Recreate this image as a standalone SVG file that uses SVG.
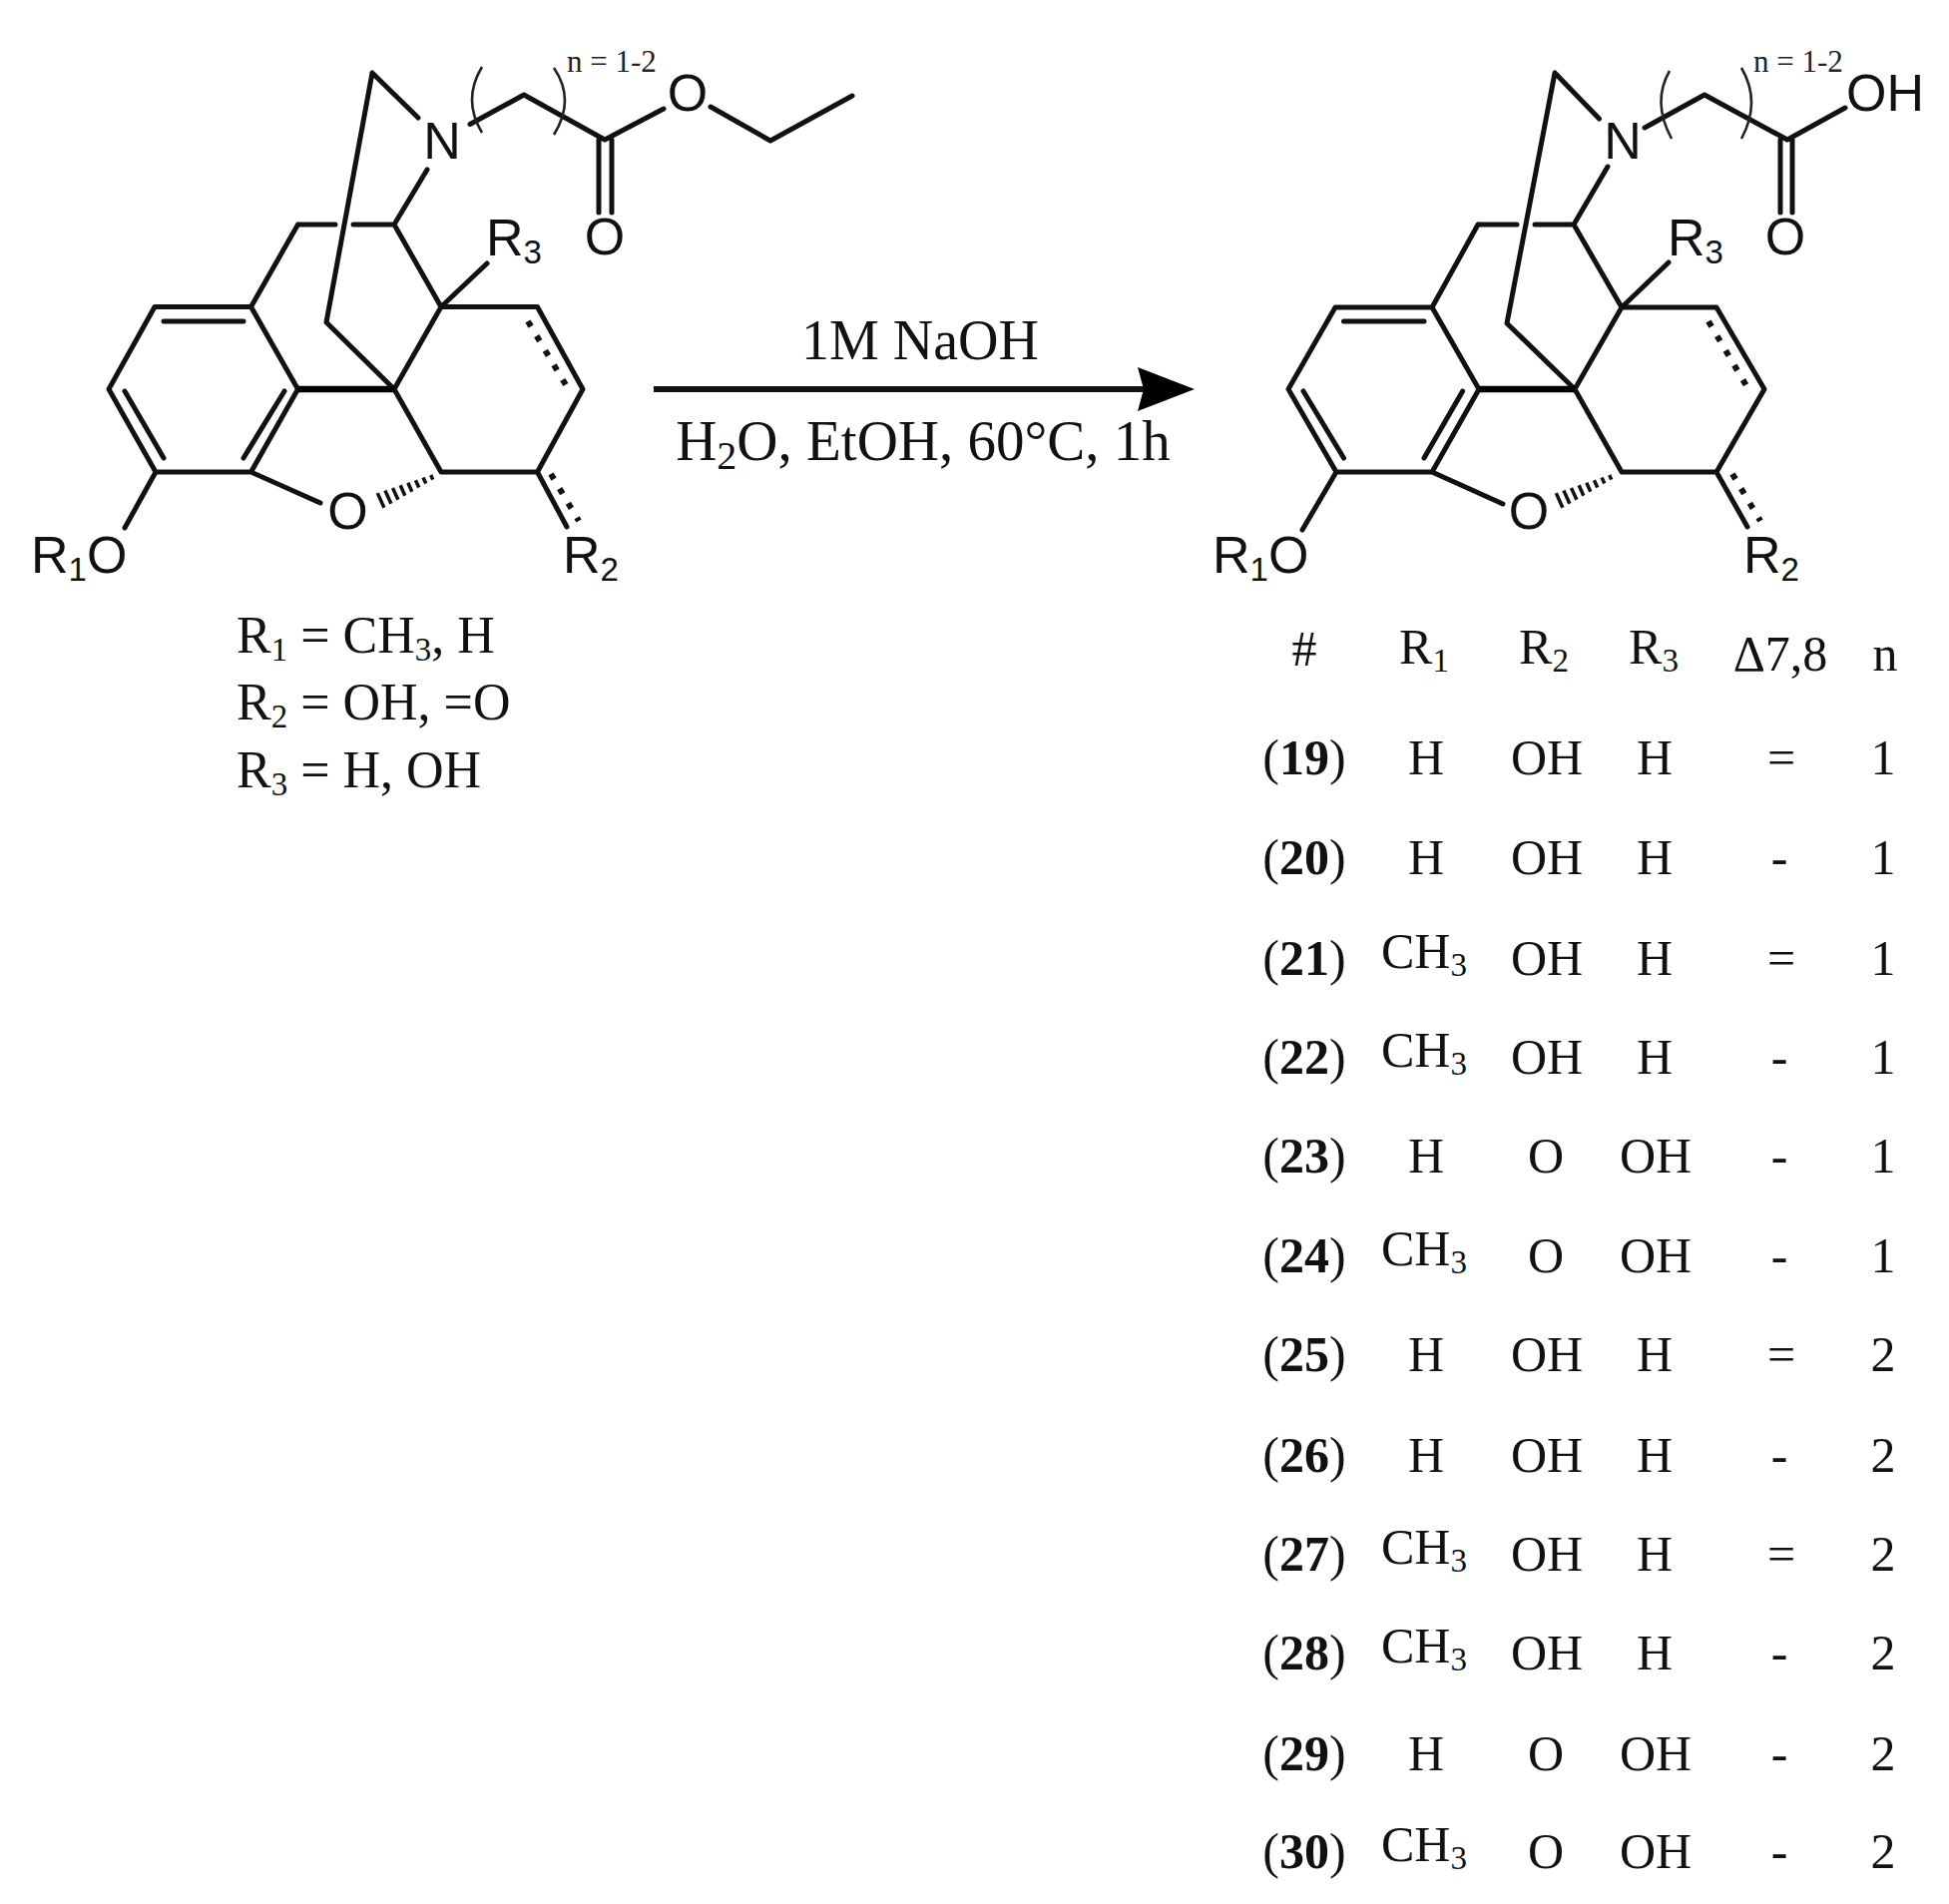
<svg xmlns="http://www.w3.org/2000/svg" xmlns:xlink="http://www.w3.org/1999/xlink" width="1953" height="1908" viewBox="0 0 1953 1908">
<style>
.b{fill:none;stroke:#111;stroke-width:5;stroke-linecap:round;stroke-linejoin:round}
.t{fill:none;stroke:#000;stroke-width:6.500}
.d{fill:none;stroke:#111;stroke-width:6;stroke-dasharray:6 11}
.h{fill:none;stroke:#111;stroke-width:3.500}
.p{fill:none;stroke:#222;stroke-width:2.600}
.a{font-family:"Liberation Sans",Arial,sans-serif;font-size:52px;fill:#111}
.s{font-family:"Liberation Serif","Times New Roman",serif;font-size:50px;fill:#111}
.m{text-anchor:middle}
.n{font-family:"Liberation Serif","Times New Roman",serif;font-size:31px;fill:#222}
.r{font-size:52px}
.c{font-size:56px}
.e{font-size:57px}
.sb{font-size:33px}
.sc{font-size:40px}
.bd{font-weight:bold}
</style>
<defs>
<path id="hash" class="h" d="M-8.300 1L-6.300 5.600M-16 3.600L-13.200 9.600M-23.600 6.200L-20.200 13.600M-31.200 8.700L-27.200 17.700M-38.800 11.300L-34.200 21.700M-46.500 13.900L-41.100 25.700M-54.100 16.500L-48.100 29.700M-61.700 19.100L-55.100 33.700"/>
<marker id="ah" markerUnits="userSpaceOnUse" markerWidth="60" markerHeight="44" refX="6" refY="22" orient="auto">
<path d="M0 0L57 22L0 44L6 22Z" fill="#000"/>
</marker>
</defs>
<g id="reactant">
<path class="b" d="M419 118L373 73L327 323L395 390M298.500 225L336 225M354 225L395 225L428 170M395 225L442 307.500L395 390M395 390L298.500 390L251.500 307.500L298.500 225M251.500 307.500L155 307.500L109 390L156 473L251.500 473L298.500 390M164 322L244 322M125 392L164 459M285 392L244 459M442 307.500L538.500 307.500L584 390L538.500 473L442 473L395 390M442 307.500L488 264M251.500 473L321 504M156 473L125 529M538.500 473L568 528M471 124.500L525 95L606 140L665 109M712 107L772 141L854 96M600 140L600 213M613 140L613 213"/>
<path class="t" d="M298.500 390L395 390"/>
<path class="d" d="M529 322L569.500 390M552 475L580 522"/>
<use xlink:href="#hash" href="#hash" x="440" y="475"/>
<path class="p" d="M483 67Q463 100 483 133M555 68Q577 100 555 135"/>
<text class="a m" x="443" y="159">N</text>
<text class="a m" x="689" y="111">O</text>
<text class="a m" x="606" y="255">O</text>
<text class="a m" x="348.500" y="530">O</text>
<text class="a" x="487" y="256">R<tspan class="sb" dy="8">3</tspan></text>
<text class="a" x="31" y="574">R<tspan class="sb" dy="8">1</tspan><tspan dy="-8">O</tspan></text>
<text class="a" x="564" y="574">R<tspan class="sb" dy="8">2</tspan></text>
<text class="n" x="568" y="72">n = 1-2</text>
</g>
<g id="reactant-legend">
<text class="s r" x="237" y="654">R<tspan class="sb" dy="8">1</tspan><tspan dy="-8"> = CH</tspan><tspan class="sb" dy="8">3</tspan><tspan dy="-8">, H</tspan></text>
<text class="s r" x="237" y="721">R<tspan class="sb" dy="8">2</tspan><tspan dy="-8"> = OH, =O</tspan></text>
<text class="s r" x="237" y="789">R<tspan class="sb" dy="8">3</tspan><tspan dy="-8"> = H, OH</tspan></text>
</g>
<g id="connectors">
<line x1="655" y1="390" x2="1146" y2="390" stroke="#111" stroke-width="6" marker-end="url(#ah)"/>
</g>
<g id="conditions">
<text class="s c m" x="922" y="360">1M NaOH</text>
<text class="s e m" x="925" y="461">H<tspan class="sc" dy="9">2</tspan><tspan dy="-9">O, EtOH, 60°C, 1h</tspan></text>
</g>
<g id="product">
<path class="b" d="M1602.500 119L1558 73L1510 324L1578 390M1481 225L1520 225M1538 225L1577 225L1611 167M1577 225L1625 308L1578 390M1435 308L1481 225M1482 390L1435 308L1338 308L1291 390L1339 473L1435 473L1482 390M1346.500 322L1427 322M1306 392L1346.500 459M1465.600 392L1427 459M1625 308L1720 308L1768 390L1720 473L1625 473L1578 390M1625 308L1672 263M1435 473L1506 505M1339 473L1305 531M1720 473L1751 528M1648 128L1708 95L1791 140L1849 108M1784 140L1784 213M1796 140L1796 213"/>
<path class="t" d="M1482 390L1578 390"/>
<path class="d" d="M1712 322L1752 390M1736 475L1764 522"/>
<use xlink:href="#hash" href="#hash" x="1621" y="475"/>
<path class="p" d="M1673 71Q1655 102 1675 139M1745 68Q1765 102 1745 139"/>
<text class="a m" x="1626" y="159">N</text>
<text class="a" x="1850" y="111">OH</text>
<text class="a m" x="1789" y="255">O</text>
<text class="a m" x="1532" y="530">O</text>
<text class="a" x="1671" y="256">R<tspan class="sb" dy="8">3</tspan></text>
<text class="a" x="1215" y="574">R<tspan class="sb" dy="8">1</tspan><tspan dy="-8">O</tspan></text>
<text class="a" x="1747" y="574">R<tspan class="sb" dy="8">2</tspan></text>
<text class="n" x="1757" y="72">n = 1-2</text>
</g>
<g id="table">
<g id="table-head">
<text class="s m" x="1307" y="667">#</text>
<text class="s m" x="1427" y="665">R<tspan class="sb" dy="8">1</tspan></text>
<text class="s m" x="1547" y="665">R<tspan class="sb" dy="8">2</tspan></text>
<text class="s m" x="1657" y="665">R<tspan class="sb" dy="8">3</tspan></text>
<text class="s m" x="1784" y="672">Δ7,8</text>
<text class="s m" x="1889" y="672">n</text>
</g>
<g id="row-19"><text class="s m" x="1307" y="776">(<tspan class="bd">19</tspan>)</text><text class="s m" x="1429" y="776">H</text><text class="s m" x="1550" y="776">OH</text><text class="s m" x="1658" y="776">H</text><text class="s m" x="1785" y="776">=</text><text class="s m" x="1887" y="776">1</text></g>
<g id="row-20"><text class="s m" x="1307" y="876">(<tspan class="bd">20</tspan>)</text><text class="s m" x="1429" y="876">H</text><text class="s m" x="1550" y="876">OH</text><text class="s m" x="1658" y="876">H</text><text class="s m" x="1783" y="876">-</text><text class="s m" x="1887" y="876">1</text></g>
<g id="row-21"><text class="s m" x="1307" y="977">(<tspan class="bd">21</tspan>)</text><text class="s m" x="1427" y="970">CH<tspan class="sb" dy="8">3</tspan></text><text class="s m" x="1550" y="977">OH</text><text class="s m" x="1658" y="977">H</text><text class="s m" x="1785" y="977">=</text><text class="s m" x="1887" y="977">1</text></g>
<g id="row-22"><text class="s m" x="1307" y="1076">(<tspan class="bd">22</tspan>)</text><text class="s m" x="1427" y="1069">CH<tspan class="sb" dy="8">3</tspan></text><text class="s m" x="1550" y="1076">OH</text><text class="s m" x="1658" y="1076">H</text><text class="s m" x="1783" y="1076">-</text><text class="s m" x="1887" y="1076">1</text></g>
<g id="row-23"><text class="s m" x="1307" y="1175">(<tspan class="bd">23</tspan>)</text><text class="s m" x="1429" y="1175">H</text><text class="s m" x="1549" y="1175">O</text><text class="s m" x="1659" y="1175">OH</text><text class="s m" x="1783" y="1175">-</text><text class="s m" x="1887" y="1175">1</text></g>
<g id="row-24"><text class="s m" x="1307" y="1275">(<tspan class="bd">24</tspan>)</text><text class="s m" x="1427" y="1268">CH<tspan class="sb" dy="8">3</tspan></text><text class="s m" x="1549" y="1275">O</text><text class="s m" x="1659" y="1275">OH</text><text class="s m" x="1783" y="1275">-</text><text class="s m" x="1887" y="1275">1</text></g>
<g id="row-25"><text class="s m" x="1307" y="1374">(<tspan class="bd">25</tspan>)</text><text class="s m" x="1429" y="1374">H</text><text class="s m" x="1550" y="1374">OH</text><text class="s m" x="1658" y="1374">H</text><text class="s m" x="1785" y="1374">=</text><text class="s m" x="1887" y="1374">2</text></g>
<g id="row-26"><text class="s m" x="1307" y="1475">(<tspan class="bd">26</tspan>)</text><text class="s m" x="1429" y="1475">H</text><text class="s m" x="1550" y="1475">OH</text><text class="s m" x="1658" y="1475">H</text><text class="s m" x="1783" y="1475">-</text><text class="s m" x="1887" y="1475">2</text></g>
<g id="row-27"><text class="s m" x="1307" y="1574">(<tspan class="bd">27</tspan>)</text><text class="s m" x="1427" y="1567">CH<tspan class="sb" dy="8">3</tspan></text><text class="s m" x="1550" y="1574">OH</text><text class="s m" x="1658" y="1574">H</text><text class="s m" x="1785" y="1574">=</text><text class="s m" x="1887" y="1574">2</text></g>
<g id="row-28"><text class="s m" x="1307" y="1673">(<tspan class="bd">28</tspan>)</text><text class="s m" x="1427" y="1666">CH<tspan class="sb" dy="8">3</tspan></text><text class="s m" x="1550" y="1673">OH</text><text class="s m" x="1658" y="1673">H</text><text class="s m" x="1783" y="1673">-</text><text class="s m" x="1887" y="1673">2</text></g>
<g id="row-29"><text class="s m" x="1307" y="1774">(<tspan class="bd">29</tspan>)</text><text class="s m" x="1429" y="1774">H</text><text class="s m" x="1549" y="1774">O</text><text class="s m" x="1659" y="1774">OH</text><text class="s m" x="1783" y="1774">-</text><text class="s m" x="1887" y="1774">2</text></g>
<g id="row-30"><text class="s m" x="1307" y="1872">(<tspan class="bd">30</tspan>)</text><text class="s m" x="1427" y="1865">CH<tspan class="sb" dy="8">3</tspan></text><text class="s m" x="1549" y="1872">O</text><text class="s m" x="1659" y="1872">OH</text><text class="s m" x="1783" y="1872">-</text><text class="s m" x="1887" y="1872">2</text></g>
</g>
</svg>
